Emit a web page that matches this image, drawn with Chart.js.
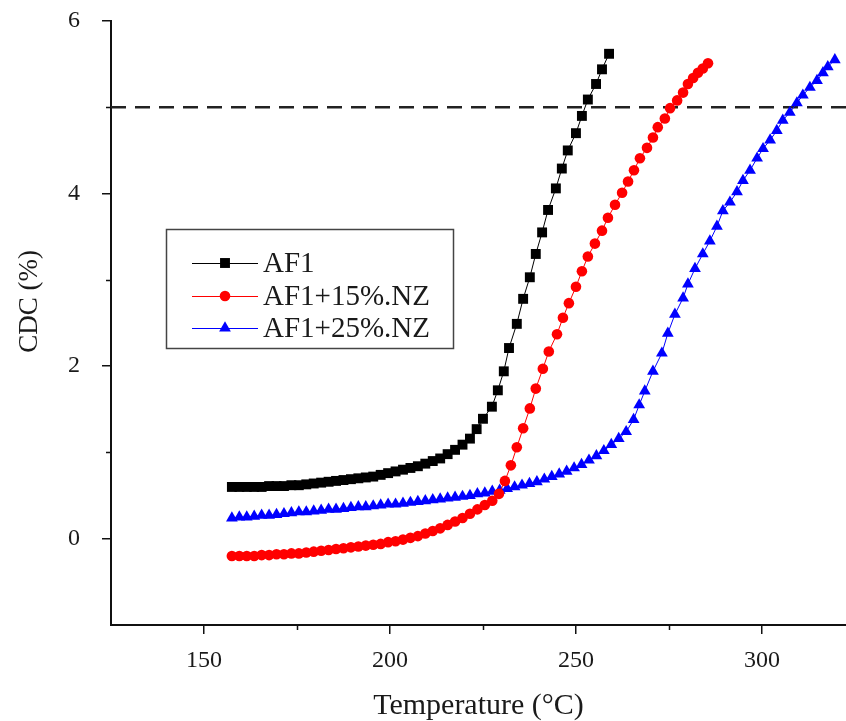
<!DOCTYPE html>
<html>
<head>
<meta charset="utf-8">
<script src="https://cdn.jsdelivr.net/npm/chart.js@4.4.1/dist/chart.umd.min.js"></script>
<style>
  html, body { margin: 0; padding: 0; background: #ffffff; }
  #wrap { width: 846px; height: 721px; position: relative; }
</style>
</head>
<body>
<div id="wrap"><canvas id="c" width="846" height="721"></canvas></div>
<script>
// ---- Data ----
const seriesLabels = ["AF1", "AF1+15%.NZ", "AF1+25%.NZ"];

const af1Temp = [157.5,159.5,161.5,163.5,165.5,167.5,169.5,171.5,173.5,175.5,
  177.5,179.5,181.5,183.5,185.5,187.5,189.5,191.5,193.5,195.5,
  197.5,199.5,201.5,203.5,205.5,207.5,209.5,211.5,213.5,215.5,
  217.5,219.5,221.5,
  223.3,225.0,227.4,229.0,230.6,232.0,234.1,235.8,237.6,239.2,
  240.9,242.5,244.6,246.2,247.8,250.0,251.6,253.2,255.4,257.0,
  258.9];
const af1Cdc = [0.60,0.60,0.60,0.60,0.60,0.61,0.61,0.61,0.62,0.62,
  0.63,0.64,0.65,0.66,0.67,0.68,0.69,0.70,0.71,0.72,
  0.74,0.76,0.78,0.80,0.82,0.84,0.87,0.90,0.93,0.98,
  1.03,1.09,1.16,
  1.27,1.39,1.53,1.72,1.94,2.21,2.49,2.78,3.03,3.30,
  3.55,3.81,4.06,4.29,4.50,4.70,4.90,5.09,5.27,5.44,
  5.62];

const nz15Temp = [157.5,159.5,161.5,163.5,165.5,167.5,169.5,171.5,173.5,175.5,
  177.5,179.5,181.5,183.5,185.5,187.5,189.5,191.5,193.5,195.5,
  197.5,199.5,201.5,203.5,205.5,207.5,209.5,211.5,213.5,215.5,
  217.5,219.5,221.5,223.5,225.5,227.5,
  229.3,230.9,232.5,234.1,235.8,237.6,239.2,241.1,242.7,244.9,
  246.5,248.1,250.0,251.6,253.2,255.1,257.0,258.6,260.5,262.4,
  264.0,265.6,267.2,269.1,270.7,272.0,273.9,275.3,277.2,278.8,
  280.1,281.5,282.8,284.1,285.5];
const nz15Cdc = [-0.20,-0.20,-0.20,-0.20,-0.19,-0.19,-0.18,-0.18,-0.17,-0.17,
  -0.16,-0.15,-0.14,-0.13,-0.12,-0.11,-0.10,-0.09,-0.08,-0.07,
  -0.06,-0.04,-0.03,-0.01,0.01,0.03,0.06,0.09,0.12,0.16,
  0.20,0.24,0.29,0.34,0.39,0.44,
  0.52,0.67,0.85,1.06,1.28,1.51,1.74,1.97,2.17,2.37,
  2.56,2.73,2.92,3.10,3.27,3.42,3.57,3.72,3.87,4.01,
  4.14,4.27,4.41,4.53,4.65,4.77,4.87,4.99,5.08,5.17,
  5.27,5.34,5.40,5.45,5.51];

const nz25Temp = [157.5,159.5,161.5,163.5,165.5,167.5,169.5,171.5,173.5,175.5,
  177.5,179.5,181.5,183.5,185.5,187.5,189.5,191.5,193.5,195.5,
  197.5,199.5,201.5,203.5,205.5,207.5,209.5,211.5,213.5,215.5,
  217.5,219.5,221.5,223.5,225.5,227.5,229.5,231.5,233.5,235.5,
  237.5,239.5,241.5,243.5,245.5,247.5,249.5,251.5,253.5,255.5,
  257.5,259.5,261.5,263.5,
  265.5,267.0,268.5,270.7,273.1,274.7,276.6,278.8,280.1,282.0,
  284.1,286.0,287.9,289.5,291.4,293.3,294.9,296.8,298.7,300.3,
  302.2,304.0,305.6,307.5,309.4,311.0,312.9,314.8,316.4,317.7,
  319.6];
const nz25Cdc = [0.24,0.25,0.25,0.26,0.27,0.27,0.28,0.29,0.30,0.31,
  0.31,0.32,0.33,0.34,0.34,0.35,0.36,0.37,0.37,0.38,
  0.39,0.40,0.40,0.41,0.42,0.43,0.44,0.45,0.46,0.47,
  0.48,0.49,0.50,0.52,0.53,0.55,0.56,0.58,0.60,0.62,
  0.64,0.66,0.69,0.72,0.75,0.78,0.82,0.86,0.91,0.96,
  1.02,1.09,1.16,1.24,
  1.38,1.55,1.71,1.94,2.15,2.38,2.60,2.79,2.95,3.13,
  3.30,3.45,3.62,3.80,3.90,4.02,4.15,4.27,4.41,4.52,
  4.62,4.73,4.85,4.94,5.05,5.14,5.23,5.31,5.40,5.47,
  5.55];

const limitValue = 5;               // dashed reference level
const xRange = [125, 322.6];
const yRange = [-1, 6];
const xMajorTicks = [150, 200, 250, 300];
const xMinorTicks = [175, 225, 275];
const yMajorTicks = [0, 2, 4, 6];
const yMinorTicks = [1, 3, 5];
const xTitle = 'Temperature (°C)';
const yTitle = 'CDC (%)';

// ---- helpers ----
const toPoints = (xs, ys) => xs.map((x, i) => ({ x: x, y: ys[i] }));
const SERIF = "'Liberation Serif', 'Times New Roman', serif";
const AXIS = '#111111';

const datasets = [
  { label: seriesLabels[0], data: toPoints(af1Temp, af1Cdc),
    borderColor: '#000000', backgroundColor: '#000000', borderWidth: 1,
    pointStyle: 'rect', pointRadius: 7, pointBorderWidth: 0, order: 1 },
  { label: seriesLabels[1], data: toPoints(nz15Temp, nz15Cdc),
    borderColor: '#ff0000', backgroundColor: '#ff0000', borderWidth: 1,
    pointStyle: 'circle', pointRadius: 5.3, pointBorderWidth: 0, order: 2 },
  { label: seriesLabels[2], data: toPoints(nz25Temp, nz25Cdc),
    borderColor: '#0000ff', backgroundColor: '#0000ff', borderWidth: 1,
    pointStyle: 'triangle', pointRadius: 6.8, pointBorderWidth: 0, order: 3 },
  { label: 'limit', data: [{ x: xRange[0], y: limitValue }, { x: xRange[1], y: limitValue }],
    borderColor: '#222222', borderWidth: 2.6, borderDash: [15, 9],
    pointRadius: 0, order: 10 }
];

const minorTickPlugin = {
  id: 'minorTicks',
  afterDraw(chart) {
    const ctx = chart.ctx, xs = chart.scales.x, ys = chart.scales.y;
    const area = chart.chartArea;
    ctx.save();
    ctx.strokeStyle = AXIS;
    ctx.lineWidth = 1.5;
    ctx.beginPath();
    xMinorTicks.forEach(v => {
      const px = Math.round(xs.getPixelForValue(v)) + 0.5;
      ctx.moveTo(px, area.bottom); ctx.lineTo(px, area.bottom + 5);
    });
    yMinorTicks.forEach(v => {
      const py = Math.round(ys.getPixelForValue(v)) + 0.5;
      ctx.moveTo(area.left - 5, py); ctx.lineTo(area.left, py);
    });
    ctx.stroke();
    ctx.restore();
  }
};

// y-axis title drawn slightly above the axis centre, as in the reference
const yTitlePlugin = {
  id: 'yTitle',
  afterDraw(chart) {
    const ctx = chart.ctx, ys = chart.scales.y;
    const cy = ys.getPixelForValue(2.75);
    ctx.save();
    ctx.translate(30, cy);
    ctx.rotate(-Math.PI / 2);
    ctx.fillStyle = '#1a1a1a';
    ctx.font = '27px ' + SERIF;
    ctx.textAlign = 'center';
    ctx.textBaseline = 'middle';
    ctx.fillText(yTitle, 0, 0);
    ctx.restore();
  }
};

const boxLegendPlugin = {
  id: 'boxLegend',
  afterDraw(chart) {
    const ctx = chart.ctx;
    const box = { x: 166.5, y: 229.5, w: 287, h: 119 };
    const rowsY = [263, 296, 328];
    ctx.save();
    ctx.fillStyle = '#ffffff';
    ctx.fillRect(box.x, box.y, box.w, box.h);
    ctx.strokeStyle = '#444444';
    ctx.lineWidth = 1.5;
    ctx.strokeRect(box.x, box.y, box.w, box.h);
    for (let i = 0; i < 3; i++) {
      const ds = chart.data.datasets[i];
      const y = rowsY[i];
      ctx.strokeStyle = ds.borderColor;
      ctx.lineWidth = 1;
      ctx.beginPath();
      ctx.moveTo(192, y + 0.5); ctx.lineTo(258, y + 0.5);
      ctx.stroke();
      ctx.fillStyle = ds.backgroundColor;
      Chart.helpers.drawPoint(ctx, {
        pointStyle: ds.pointStyle, radius: ds.pointRadius, rotation: 0, borderWidth: 0
      }, 225, y);
      ctx.fillStyle = '#1a1a1a';
      ctx.font = '29px ' + SERIF;
      ctx.textBaseline = 'middle';
      ctx.textAlign = 'left';
      ctx.fillText(ds.label, 263, y + 1);
    }
    ctx.restore();
  }
};

new Chart(document.getElementById('c'), {
  type: 'line',
  data: { datasets: datasets },
  options: {
    responsive: false,
    animation: false,
    devicePixelRatio: 1,
    layout: { autoPadding: false, padding: { top: 21, right: 0, bottom: 0, left: 0 } },
    plugins: { legend: { display: false }, tooltip: { enabled: false } },
    elements: { line: { tension: 0 } },
    scales: {
      x: {
        type: 'linear', position: 'bottom',
        min: xRange[0], max: xRange[1],
        afterBuildTicks: s => { s.ticks = xMajorTicks.map(v => ({ value: v })); },
        afterFit: s => { s.height = 96; s.paddingLeft = 0; s.paddingRight = 0; },
        grid: { display: true, drawOnChartArea: false, drawTicks: true, tickLength: 9,
                color: AXIS, lineWidth: 1.5 },
        border: { display: true, color: AXIS, width: 2 },
        ticks: { color: '#1a1a1a', padding: 12, maxRotation: 0, autoSkip: false,
                 font: { family: SERIF, size: 24 } },
        title: { display: true, text: xTitle, color: '#1a1a1a',
                 font: { family: SERIF, size: 30, lineHeight: 1 },
                 padding: { top: 5, bottom: 0 } }
      },
      y: {
        type: 'linear', position: 'left',
        min: yRange[0], max: yRange[1],
        afterBuildTicks: s => { s.ticks = yMajorTicks.map(v => ({ value: v })); },
        afterFit: s => { s.width = 111; s.paddingTop = 0; s.paddingBottom = 0; },
        grid: { display: true, drawOnChartArea: false, drawTicks: true, tickLength: 9,
                color: AXIS, lineWidth: 1.5 },
        border: { display: true, color: AXIS, width: 2 },
        ticks: { color: '#1a1a1a', padding: 22, autoSkip: false,
                 font: { family: SERIF, size: 24 } },
        title: { display: false, text: yTitle }
      }
    }
  },
  plugins: [minorTickPlugin, yTitlePlugin, boxLegendPlugin]
});
</script>
</body>
</html>
